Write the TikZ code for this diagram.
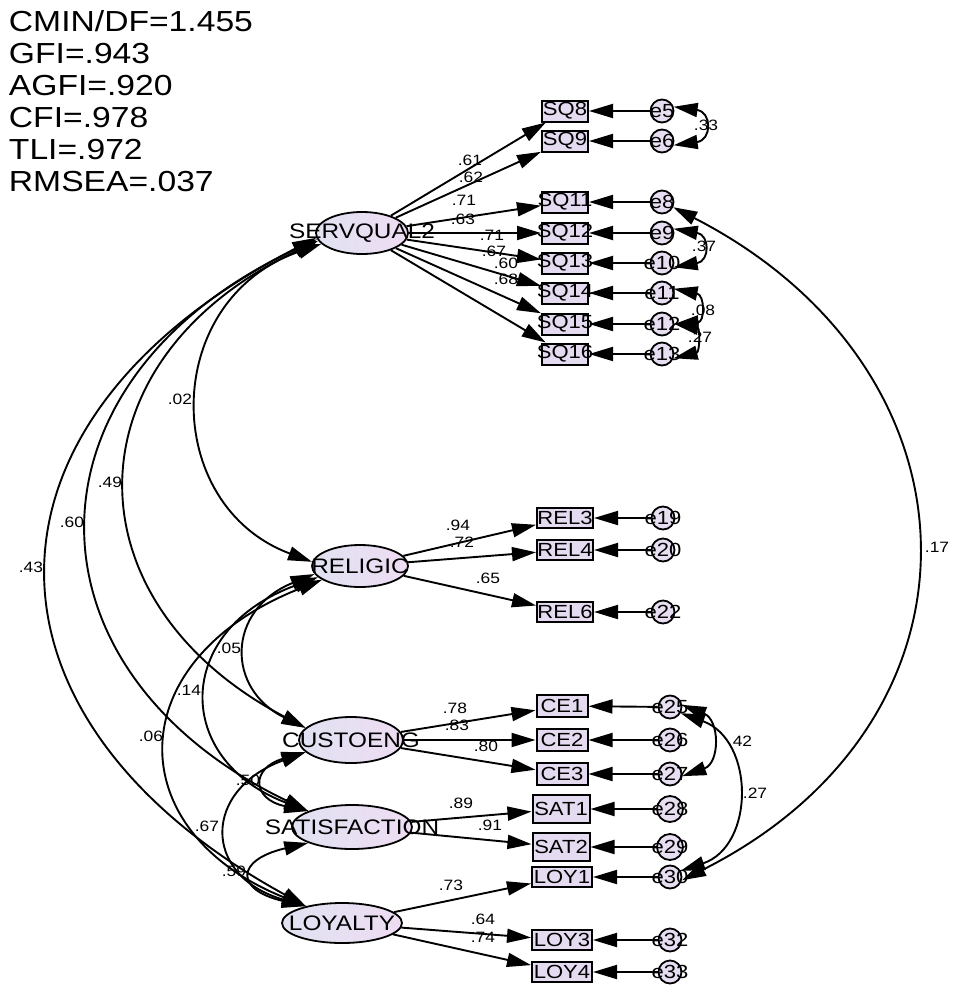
\documentclass[tikz,border=0pt]{standalone}
\usepackage{fontspec}
\setmainfont{Liberation Sans}
\usepackage{graphicx}
\usetikzlibrary{shapes.geometric,arrows.meta}
\definecolor{latL}{RGB}{224,226,242}
\definecolor{latR}{RGB}{238,220,242}
\definecolor{boxfill}{RGB}{229,219,240}
\definecolor{errfill}{RGB}{231,222,241}
\newcommand{\W}[1]{\scalebox{1.16}[1]{#1}}
\newcommand{\ctr}[1]{\makebox[0pt]{\W{#1}}}
\begin{document}
\begin{tikzpicture}[x=1pt,y=-1pt,
  line width=1.9pt,
  >={Triangle[length=24pt,width=14pt]},
  lat/.style={ellipse,draw,line width=1.8pt,inner sep=0pt,left color=latL,right color=latR,font=\fontsize{21}{24}\selectfont},
  obs/.style={rectangle,draw,line width=2pt,inner sep=0pt,fill=boxfill,font=\fontsize{19}{22}\selectfont},
  err/.style={circle,draw,line width=1.8pt,inner sep=0pt,minimum size=23pt,fill=errfill,font=\fontsize{19}{22}\selectfont},
  coef/.style={inner sep=0pt,font=\fontsize{15}{17}\selectfont},
  stat/.style={anchor=base west,inner sep=0pt,font=\fontsize{29}{32}\selectfont},
]
\useasboundingbox[fill=white] (0,0) rectangle (956,993);

% fit statistics
\node[stat] (s1) at (8,31) {\W{CMIN/DF=1.455}};
\node[stat] (s2) at (8,63) {\W{GFI=.943}};
\node[stat] (s3) at (8,95) {\W{AGFI=.920}};
\node[stat] (s4) at (8,127) {\W{CFI=.978}};
\node[stat] (s5) at (8,159) {\W{TLI=.972}};
\node[stat] (s6) at (8,191) {\W{RMSEA=.037}};

% latent variables
\node[lat,minimum width=92pt,minimum height=42pt] (SERV) at (362,233) {\ctr{SERVQUAL2}};
\node[lat,minimum width=96pt,minimum height=42pt] (REL) at (360,566) {\ctr{RELIGIC}};
\node[lat,minimum width=104pt,minimum height=46pt] (CE) at (351,740) {\ctr{CUSTOENG}};
\node[lat,minimum width=120pt,minimum height=44pt] (SAT) at (352,827) {\ctr{SATISFACTION}};
\node[lat,minimum width=120pt,minimum height=40pt] (LOY) at (342,923) {\ctr{LOYALTY}};

% observed variables
\foreach \n/\y in {SQ8/111,SQ9/141,SQ11/202,SQ12/233,SQ13/263,SQ14/293,SQ15/324,SQ16/354}
  \node[obs,minimum width=46pt,minimum height=21pt] (\n) at (565,\y) {\ctr{\n}};
\foreach \n/\y in {REL3/518,REL4/550,REL6/612}
  \node[obs,minimum width=56pt,minimum height=20pt] (\n) at (565,\y) {\ctr{\n}};
\foreach \n/\y in {CE1/706,CE2/740,CE3/774}
  \node[obs,minimum width=51pt,minimum height=22pt] (\n) at (562,\y) {\ctr{\n}};
\foreach \n/\y in {SAT1/809,SAT2/847}
  \node[obs,minimum width=57pt,minimum height=28pt] (\n) at (561,\y) {\ctr{\n}};
\foreach \n/\y in {LOY1/877,LOY3/940,LOY4/972}
  \node[obs,minimum width=60pt,minimum height=20pt] (\n) at (562,\y) {\ctr{\n}};

% error terms
\foreach \n/\y in {e5/111,e6/141,e8/202,e9/233,e10/263,e11/293,e12/324,e13/354}
  \node[err] (\n) at (662,\y) {\ctr{\n}};
\foreach \n/\y in {e19/518,e20/550,e22/612}
  \node[err] (\n) at (663,\y) {\ctr{\n}};
\foreach \n/\y in {e25/707,e26/740,e27/774,e30/877,e32/940,e33/972}
  \node[err] (\n) at (670,\y) {\ctr{\n}};
\foreach \n/\y in {e28/809,e29/847}
  \node[err,minimum size=26pt] (\n) at (670,\y) {\ctr{\n}};

% loadings
\foreach \b in {SQ8,SQ9,SQ11,SQ12,SQ13,SQ14,SQ15,SQ16} \draw[->] (SERV) -- (\b);
\foreach \b in {REL3,REL4,REL6} \draw[->] (REL) -- (\b);
\foreach \b in {CE1,CE2,CE3} \draw[->] (CE) -- (\b);
\foreach \b in {SAT1,SAT2} \draw[->] (SAT) -- (\b);
\foreach \b in {LOY1,LOY3,LOY4} \draw[->] (LOY) -- (\b);

% error paths
\foreach \e/\b in {e5/SQ8,e6/SQ9,e8/SQ11,e9/SQ12,e10/SQ13,e11/SQ14,e12/SQ15,e13/SQ16,
  e19/REL3,e20/REL4,e22/REL6,e25/CE1,e26/CE2,e27/CE3,e28/SAT1,e29/SAT2,e30/LOY1,e32/LOY3,e33/LOY4}
  \draw[->] (\e) -- (\b);

% latent covariances
\draw[<->] (SERV.195) .. controls (160,300) and (160,505) .. (REL.175);
\draw[<->] (SERV.190) .. controls (66,360) and (66,602) .. (CE.165);
\draw[<->] (SERV.188) .. controls (15,380) and (15,670) .. (SAT.160);
\draw[<->] (SERV.186) .. controls (-38,420) and (-38,718) .. (LOY.155);
\draw[<->] (REL.190) .. controls (226,610) and (226,689) .. (CE.165);
\draw[<->] (REL.195) .. controls (173,630) and (173,760) .. (SAT.160);
\draw[<->] (REL.200) .. controls (119,660) and (119,831) .. (LOY.155);
\draw[<->] (CE.195) .. controls (251,768) and (251,799) .. (SAT.160);
\draw[<->] (CE.195) .. controls (202,790) and (202,876) .. (LOY.155);
\draw[<->] (SAT.200) .. controls (235,860) and (235,890) .. (LOY.155);

% error covariances
\draw[<->] (e5.20) .. controls (712,112) and (712,140) .. (e6.-20);
\draw[<->] (e9.20) .. controls (710,235) and (710,261) .. (e10.-20);
\draw[<->] (e11.20) .. controls (705,295) and (705,322) .. (e12.0);
\draw[<->] (e12.0) .. controls (700,328) and (700,352) .. (e13.-20);
\draw[<->] (e8.335) .. controls (990,370) and (1000,720) .. (e30.345);
\draw[<->] (e25.10) .. controls (720,720) and (720,763) .. (e27.-10);
\draw[<->] (e25.-30) .. controls (755,740) and (755,846) .. (e30.30);

% coefficient labels
\node[coef] (c1) at (470,160) {\W{.61}};
\node[coef] (c2) at (471,177) {\W{.62}};
\node[coef] (c3) at (464,200) {\W{.71}};
\node[coef] (c4) at (463,219) {\W{.63}};
\node[coef] (c5) at (492,235) {\W{.71}};
\node[coef] (c6) at (494,251) {\W{.67}};
\node[coef] (c7) at (506,263) {\W{.60}};
\node[coef] (c8) at (506,279) {\W{.68}};
\node[coef] (c9) at (458,525) {\W{.94}};
\node[coef] (c10) at (462,542) {\W{.72}};
\node[coef] (c11) at (488,578) {\W{.65}};
\node[coef] (c12) at (455,708) {\W{.78}};
\node[coef] (c13) at (457,725) {\W{.83}};
\node[coef] (c14) at (486,746) {\W{.80}};
\node[coef] (c15) at (461,803) {\W{.89}};
\node[coef] (c16) at (490,825) {\W{.91}};
\node[coef] (c17) at (451,885) {\W{.73}};
\node[coef] (c18) at (483,919) {\W{.64}};
\node[coef] (c19) at (483,937) {\W{.74}};
\node[coef] (c20) at (180,399) {\W{.02}};
\node[coef] (c21) at (110,482) {\W{.49}};
\node[coef] (c22) at (72,522) {\W{.60}};
\node[coef] (c23) at (31,567) {\W{.43}};
\node[coef] (c24) at (229,648) {\W{.05}};
\node[coef] (c25) at (189,690) {\W{.14}};
\node[coef] (c26) at (151,736) {\W{.06}};
\node[coef] (c27) at (248,780) {\W{.50}};
\node[coef] (c28) at (207,826) {\W{.67}};
\node[coef] (c29) at (234,871) {\W{.59}};
\node[coef] (c30) at (706,125) {\W{.33}};
\node[coef] (c31) at (704,246) {\W{.37}};
\node[coef] (c32) at (703,310) {\W{.08}};
\node[coef] (c33) at (700,337) {\W{.27}};
\node[coef] (c34) at (937,547) {\W{.17}};
\node[coef] (c35) at (740,741) {\W{.42}};
\node[coef] (c36) at (755,793) {\W{.27}};
\end{tikzpicture}
\end{document}
